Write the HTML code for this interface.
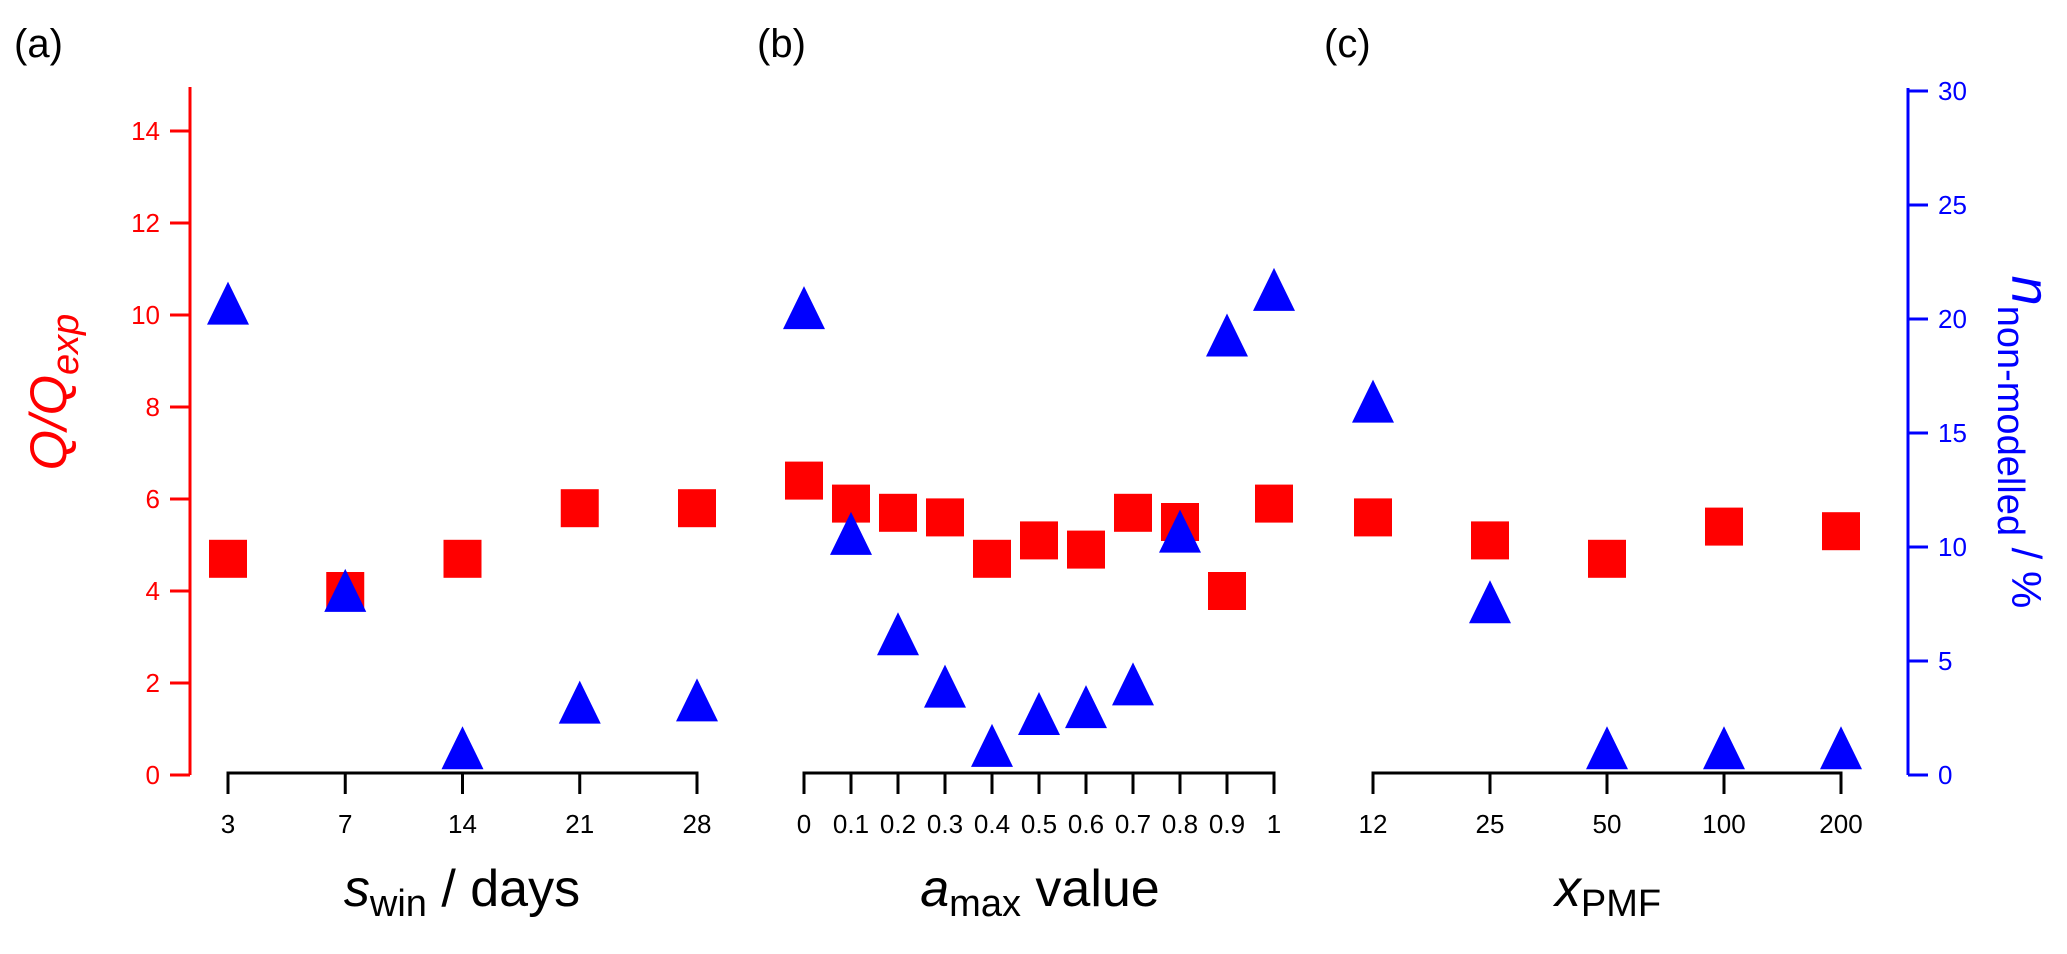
<!DOCTYPE html>
<html><head><meta charset="utf-8"><style>
html,body{margin:0;padding:0;background:#fff}
svg{display:block;font-family:"Liberation Sans",sans-serif}
</style></head><body>
<svg id="chart" width="2067" height="954" viewBox="0 0 2067 954">
<g id="axes"></g><g id="marks"></g>
</svg>
<script>
const panelCats = [["3","7","14","21","28"],["0","0.1","0.2","0.3","0.4","0.5","0.6","0.7","0.8","0.9","1"],["12","25","50","100","200"]];
const qValuesA = [4.7,4.0,4.7,5.8,5.8];
const qValuesB = [6.4,5.9,5.7,5.6,4.7,5.1,4.9,5.7,5.5,4.0,5.9];
const qValuesC = [5.6,5.1,4.7,5.4,5.3];
const nValuesA = [20.5,7.9,1.0,3.0,3.1];
const nValuesB = [20.3,10.4,6.0,3.7,1.1,2.5,2.8,3.8,10.5,19.1,21.1];
const nValuesC = [16.2,7.4,1.0,1.0,1.0];
const leftTicks = [0,2,4,6,8,10,12,14];
const rightTicks = [0,5,10,15,20,25,30];
const panelLabels = ["(a)","(b)","(c)"];

const NS="http://www.w3.org/2000/svg";
const axes=document.getElementById('axes'), marks=document.getElementById('marks');
function mk(tag,attrs,parent,text){const e=document.createElementNS(NS,tag);for(const k in attrs)e.setAttribute(k,attrs[k]);if(text!==undefined)e.textContent=text;parent.appendChild(e);return e;}
const yL=v=>775-46*v;
const yR=v=>775-22.8*v;
const panels=[{x0:228,x1:697},{x0:804,x1:1274},{x0:1373,x1:1841}];
function xP(p,i){const n=panelCats[p].length;return panels[p].x0+(panels[p].x1-panels[p].x0)*i/(n-1);}

let la=mk('g',{},axes);

mk('line',{x1:190,y1:87,x2:190,y2:775,stroke:'#f00','stroke-width':3},la);
leftTicks.forEach(t=>{mk('line',{x1:170,y1:yL(t),x2:190,y2:yL(t),stroke:'#f00','stroke-width':3},la);
 const tx=mk('text',{x:160,y:yL(t)+9,'text-anchor':'end','font-size':26,fill:'#f00'},la,String(t));
 });
let ra=mk('g',{},axes);

mk('line',{x1:1908,y1:88,x2:1908,y2:775,stroke:'#00f','stroke-width':3},ra);
rightTicks.forEach(t=>{mk('line',{x1:1908,y1:yR(t),x2:1928,y2:yR(t),stroke:'#00f','stroke-width':3},ra);
 const tx=mk('text',{x:1938,y:yR(t)+9,'font-size':26,fill:'#00f'},ra,String(t));
 });
let lt=mk('text',{transform:'translate(66,392) rotate(-90)','text-anchor':'middle','font-size':52,fill:'#f00','font-style':'italic'},axes);

lt.innerHTML='Q/Q<tspan font-size="38" dy="12">exp</tspan>';
let rt=mk('text',{transform:'translate(2012,442) rotate(90)','text-anchor':'middle','font-size':48,fill:'#00f'},axes);

rt.innerHTML='<tspan font-style="italic" font-size="54">n</tspan><tspan font-size="38" dy="14">non-modelled</tspan><tspan dy="-14" font-size="42"> / %</tspan>';

const xTitles=[['s','win',' / days',462],['a','max',' value',1040],['x','PMF','',1608]];
panels.forEach((p,pi)=>{
 const g=mk('g',{},axes);
 
 mk('line',{x1:p.x0-1.5,y1:773,x2:p.x1+1.5,y2:773,stroke:'#000','stroke-width':3},g);
 panelCats[pi].forEach((c,i)=>{const x=xP(pi,i);
  mk('line',{x1:x,y1:773,x2:x,y2:794,stroke:'#000','stroke-width':3},g);
  const t=mk('text',{x:x,y:833,'text-anchor':'middle','font-size':26,fill:'#000'},g,c);
  });
 const xt=xTitles[pi];
 const tt=mk('text',{x:xt[3],y:906,'text-anchor':'middle','font-size':52,fill:'#000'},g);
 
 tt.innerHTML='<tspan font-style="italic">'+xt[0]+'</tspan><tspan font-size="38" dy="10">'+xt[1]+'</tspan><tspan dy="-10">'+xt[2]+'</tspan>';
 const pl=mk('text',{x:[14,757,1324][pi],y:57,'font-size':40,fill:'#000'},g,panelLabels[pi]);
 
});

const qs=[qValuesA,qValuesB,qValuesC], ns=[nValuesA,nValuesB,nValuesC];
qs.forEach((arr,pi)=>arr.forEach((v,i)=>{const x=xP(pi,i),y=yL(v);
 const r=mk('rect',{x:x-19,y:y-19,width:38,height:38,fill:'#f00'},marks);
 }));
ns.forEach((arr,pi)=>arr.forEach((v,i)=>{const x=xP(pi,i),y=yR(v);
 const t=mk('polygon',{points:`${x},${y-26} ${x-21},${y+17} ${x+21},${y+17}`,fill:'#00f'},marks);
 }));
</script>
</body></html>
